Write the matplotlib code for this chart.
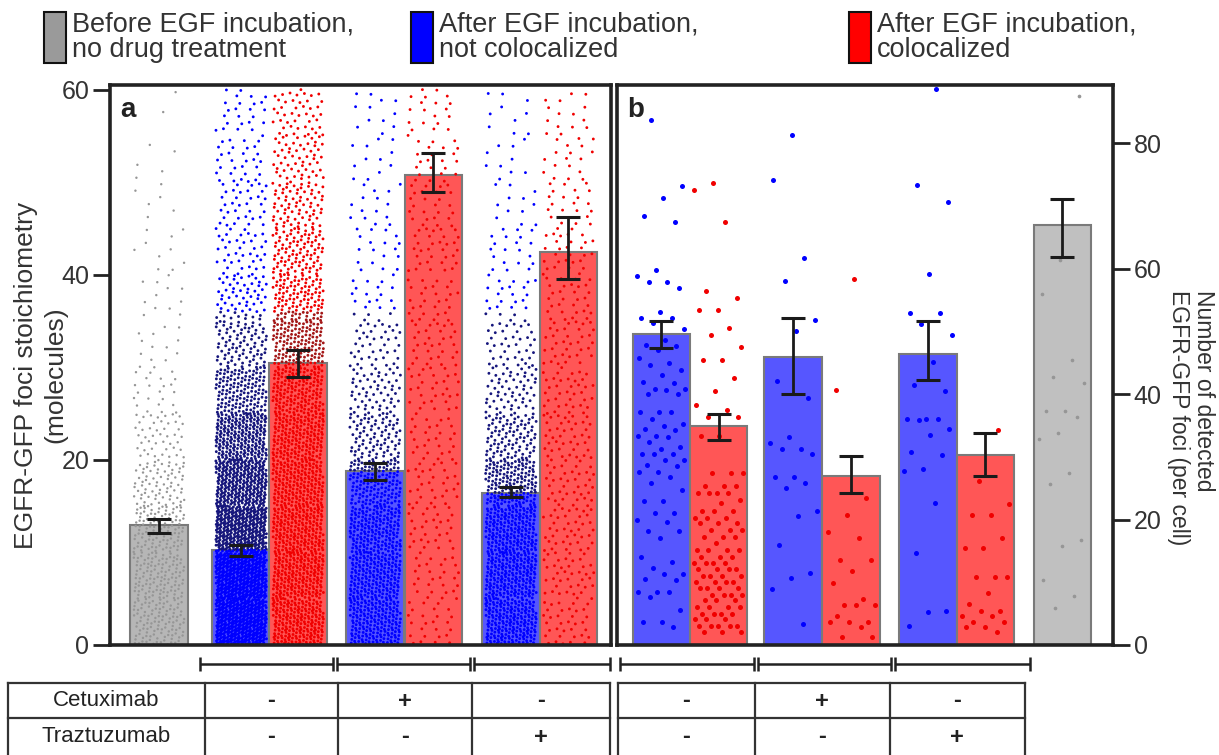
import numpy as np
import matplotlib.pyplot as plt

plt.rcParams['font.family'] = ['Liberation Sans', 'DejaVu Sans']

# ---------------- panel a: foci stoichiometry (molecules) ----------------
# order: before EGF (gray), then not coloc / coloc for: no drug, cetuximab, traztuzumab
a_kind = ["gray", "blue", "red", "blue", "red", "blue", "red"]
a_mean = [13.0, 10.3, 30.5, 18.8, 50.8, 16.4, 42.5]
a_lo = [12.1, 9.6, 29.0, 17.8, 48.9, 16.0, 39.5]
a_hi = [13.6, 10.8, 31.9, 19.7, 53.2, 17.1, 46.2]

# dots per 5-molecule bin (0-5, 5-10, ... 55-60), estimated from dot density
a_bin_edges = [0, 5, 10, 15, 20, 25, 30, 35, 40, 45, 50, 55, 60]
a_counts = [
    [110, 120, 110, 75, 45, 22, 14, 12, 10, 6, 5, 2],
    [450, 450, 400, 330, 250, 150, 90, 60, 40, 35, 30, 25],
    [220, 220, 210, 200, 190, 170, 150, 120, 100, 75, 55, 45],
    [200, 200, 190, 150, 90, 60, 40, 22, 18, 15, 12, 12],
    [25, 28, 30, 30, 28, 30, 30, 28, 32, 25, 22, 20],
    [220, 220, 210, 170, 100, 60, 40, 25, 20, 12, 10, 10],
    [35, 40, 40, 40, 40, 38, 35, 30, 30, 22, 18, 15],
]

# ---------------- panel b: detected foci per cell ----------------
b_kind = ["blue", "red", "blue", "red", "blue", "red", "gray"]
b_mean = [49.6, 34.9, 45.9, 27.0, 46.4, 30.3, 66.9]
b_lo = [47.4, 32.7, 40.0, 24.2, 42.2, 26.9, 61.8]
b_hi = [51.6, 36.9, 52.1, 30.1, 51.6, 33.8, 71.2]

b_blue1 = [83.7, 73.2, 71.3, 68.4, 67.5, 59.8, 58.9, 57.9, 57.9, 56.9, 53.1, 52.2,
           52.2, 51.3, 50.4, 48.6, 47.8, 47.7, 47.0, 45.7, 44.9, 44.7, 43.8, 43.0,
           41.9, 41.8, 40.9, 40.9, 40.7, 40.1, 40.1, 37.2, 37.2, 37.2, 36.1, 35.3,
           35.0, 34.4, 34.3, 33.3, 33.3, 33.2, 32.4, 31.6, 31.3, 30.5, 30.4, 30.4,
           29.5, 29.5, 28.7, 28.5, 27.6, 27.6, 26.8, 25.8, 24.7, 22.9, 22.9, 21.0,
           21.0, 19.9, 19.6, 18.1, 18.1, 17.0, 14.1, 13.3, 12.2, 11.4, 11.4, 10.5,
           10.4, 8.5, 8.5, 8.5, 7.7, 5.6, 3.7, 3.7, 2.9]
b_red1 = [73.6, 72.6, 67.5, 56.4, 55.4, 53.4, 53.4, 50.5, 49.5, 47.5, 45.5, 45.5,
          42.5, 40.5, 38.3, 37.4, 36.3, 36.3, 33.3, 33.3, 27.4, 27.4, 27.4, 25.3,
          25.3, 25.3, 24.2, 24.2, 24.2, 24.2, 23.1, 22.6, 21.3, 21.3, 21.3, 20.2,
          20.2, 20.2, 19.4, 19.4, 19.4, 18.3, 18.3, 18.3, 17.3, 17.3, 17.3, 16.2,
          15.2, 15.2, 15.2, 15.2, 14.1, 14.1, 14.1, 13.1, 13.1, 13.1, 13.1, 12.1,
          12.1, 12.1, 12.1, 11.0, 11.0, 11.0, 11.0, 10.1, 10.1, 10.1, 10.1, 9.1,
          9.1, 9.1, 9.1, 8.0, 8.0, 8.0, 8.0, 7.1, 7.1, 7.1, 6.1, 6.1, 6.1, 6.1,
          5.0, 5.0, 5.0, 5.0, 4.1, 4.1, 4.1, 3.0, 3.0, 3.0, 3.0, 3.0, 2.0, 2.0, 2.0]
b_blue2 = [81.4, 74.2, 61.7, 58.1, 51.9, 50.1, 42.1, 39.4, 33.1, 32.2, 31.3, 31.3,
           30.4, 26.8, 26.8, 25.9, 25.0, 21.4, 20.5, 16.0, 11.5, 10.7, 8.9, 3.4]
b_red2 = [58.3, 40.6, 23.5, 20.8, 18.0, 17.1, 13.5, 13.5, 11.8, 9.9, 7.3, 6.3,
          6.3, 6.3, 4.6, 3.7, 3.7, 3.7, 2.8, 1.2, 1.2]
b_blue3 = [88.7, 73.4, 70.7, 59.2, 52.9, 52.9, 51.2, 49.5, 45.1, 41.5, 40.5, 36.1,
           36.1, 36.1, 35.9, 34.4, 33.5, 30.7, 30.3, 28.0, 27.8, 22.7, 14.6, 5.5,
           5.2, 3.0]
b_red3 = [34.3, 26.2, 22.5, 20.8, 20.8, 17.1, 15.4, 15.4, 10.9, 10.9, 10.9, 8.3,
          6.5, 5.5, 5.5, 4.6, 4.6, 3.7, 3.7, 2.9, 2.9, 2.0]
b_gray = [87.5, 61.4, 55.9, 45.4, 42.7, 41.8, 37.3, 37.3, 36.4, 33.8, 32.9, 27.4,
          25.7, 16.7, 15.8, 10.4, 7.8, 5.9]
b_dots = [b_blue1, b_red1, b_blue2, b_red2, b_blue3, b_red3, b_gray]

legend_labels = ["Before EGF incubation,\nno drug treatment",
                 "After EGF incubation,\nnot colocalized",
                 "After EGF incubation,\ncolocalized"]
ylabel_a = ["EGFR-GFP foci stoichiometry", "(molecules)"]
ylabel_b = "Number of detected\nEGFR-GFP foci (per cell)"
drug_rows = ["Cetuximab", "Traztuzumab"]
cetuximab = ["-", "+", "-"]
traztuzumab = ["-", "-", "+"]

# colours
bar_col = {"gray": "#b6b6b6", "blue": "#5656ff", "red": "#ff5656"}
dot_col = {"gray": "#969696", "blue": "#0000ff", "red": "#f00000"}
dark_col = {"gray": "#969696", "blue": "#16167c", "red": "#a31616"}
leg_col = ["#9a9a9a", "#0000ff", "#ff0000"]

# bar centres in bar-width units (layout)
a_x = [0.85, 2.28, 3.27, 4.61, 5.62, 6.97, 7.97]
b_x = [0.77, 1.77, 3.06, 4.07, 5.41, 6.41, 7.75]

A1, A2 = 0.7548776662, 0.5698402910  # quasi-random spread of dots inside a column
PHI = 0.6180339887

fig = plt.figure(figsize=(12.19, 7.55), dpi=100)
W, H = 1219, 755
ax_a = fig.add_axes([110 / W, 1 - 645 / H, 501 / W, 560 / H])
ax_b = fig.add_axes([617 / W, 1 - 645 / H, 496 / W, 560 / H])


def style(ax):
    for s in ax.spines.values():
        s.set_linewidth(2.6)
        s.set_color("#222222")
    ax.set_xticks([])
    ax.tick_params(axis="y", direction="out", length=12, width=2, color="#222222",
                   labelsize=18, labelcolor="#333333", pad=3)


# panel a
for i, kind in enumerate(a_kind):
    ax_a.bar(a_x[i], a_mean[i], width=1.0, color=bar_col[kind], edgecolor="#7a7a7a",
             linewidth=1.5, zorder=1)
    xs, ys = [], []
    k0 = 0
    for c, lo, hi in zip(a_counts[i], a_bin_edges[:-1], a_bin_edges[1:]):
        k = np.arange(c) + k0
        xs.append(a_x[i] + (((0.5 + A1 * k) % 1) - 0.5) * 0.88)
        ys.append(lo + (hi - lo) * ((0.5 + A2 * k) % 1))
        k0 += c
    xs = np.concatenate(xs)
    ys = np.concatenate(ys)
    cols = np.where((ys > a_mean[i]) & (ys < 36), dark_col[kind], dot_col[kind])
    ax_a.scatter(xs, ys, s=4.2 if kind != "gray" else 3.0, c=cols, linewidths=0,
                 zorder=2)
    ax_a.errorbar(a_x[i], a_mean[i], yerr=[[a_mean[i] - a_lo[i]], [a_hi[i] - a_mean[i]]],
                  fmt="none", ecolor="#1a1a1a", elinewidth=2, capsize=8.5, capthick=2.2,
                  zorder=4)
ax_a.set_xlim(0, 8.71)
ax_a.set_ylim(0, 60.5)
ax_a.set_yticks([0, 20, 40, 60])
style(ax_a)
ax_a.text(0.02, 0.978, "a", transform=ax_a.transAxes, fontsize=20,
          fontweight="bold", color="#222222", va="top")

# panel b
for i, kind in enumerate(b_kind):
    ax_b.bar(b_x[i], b_mean[i], width=1.0, color=bar_col[kind] if kind != "gray" else "#c0c0c0",
             edgecolor="#7a7a7a", linewidth=1.5, zorder=1)
    vals = np.array(b_dots[i])
    k = np.arange(len(vals)) + 5 * i
    xs = b_x[i] + (((0.3 + PHI * k) % 1) - 0.5) * 0.86
    ax_b.scatter(xs, vals, s=13 if kind != "gray" else 7, c=dot_col[kind],
                 linewidths=0, zorder=2)
    ax_b.errorbar(b_x[i], b_mean[i], yerr=[[b_mean[i] - b_lo[i]], [b_hi[i] - b_mean[i]]],
                  fmt="none", ecolor="#1a1a1a", elinewidth=2, capsize=8.5, capthick=2.2,
                  zorder=4)
ax_b.set_xlim(0, 8.63)
ax_b.set_ylim(0, 89.3)
ax_b.set_yticks([0, 20, 40, 60, 80])
ax_b.yaxis.tick_right()
style(ax_b)
ax_b.text(0.02, 0.978, "b", transform=ax_b.transAxes, fontsize=20,
          fontweight="bold", color="#222222", va="top")

# overlay in pixel coordinates for legend, axis titles, brackets and the drug table
ov = fig.add_axes([0, 0, 1, 1], zorder=-1)
ov.set_xlim(0, W)
ov.set_ylim(H, 0)
ov.axis("off")

for lx, line in zip([26, 55], ylabel_a):
    ov.text(lx, 375, line, rotation=90, fontsize=19, color="#333333",
            ha="center", va="center")
ov.text(1191, 290, ylabel_b, rotation=270, fontsize=16.5, color="#333333",
        ha="center", va="top", multialignment="left", linespacing=1.1)

leg_x = [44, 411, 849]
for x0, col, lab in zip(leg_x, leg_col, legend_labels):
    ov.add_patch(plt.Rectangle((x0, 12), 22, 51, facecolor=col, edgecolor="#111111",
                               linewidth=1.5))
    ov.text(x0 + 28, 37, lab, fontsize=19.5, color="#333333", va="center", ha="left",
            linespacing=0.98)

line_kw = dict(color="#222222", linewidth=1.8, solid_capstyle="butt")
brackets = [(200, 333), (337, 470), (474, 610), (620, 754), (758, 891), (895, 1030)]
for x1, x2 in brackets:
    ov.plot([x1, x2], [664, 664], **line_kw)
    ov.plot([x1, x1], [657, 671], **line_kw)
    ov.plot([x2, x2], [657, 671], **line_kw)

tab_kw = dict(color="#333333", linewidth=1.6)
for xs_ in ([8, 205, 338, 472, 610], [618, 755, 890, 1025]):
    for y in (683, 718):
        ov.plot([xs_[0], xs_[-1]], [y, y], **tab_kw)
    for x in xs_:
        ov.plot([x, x], [683, 756], **tab_kw)

for row, name in enumerate(drug_rows):
    ov.text(106, 701 + 36 * row, name, fontsize=16, color="#222222",
            ha="center", va="center")
cells_left = [271, 405, 541]
cells_right = [686, 822, 957]
for row, signs in enumerate([cetuximab, traztuzumab]):
    for cx_l, cx_r, sg in zip(cells_left, cells_right, signs):
        for cx in (cx_l, cx_r):
            ov.text(cx, 701 + 36 * row, sg, fontsize=17, fontweight="bold",
                    color="#222222", ha="center", va="center")

fig.savefig("out.png", dpi=100)
